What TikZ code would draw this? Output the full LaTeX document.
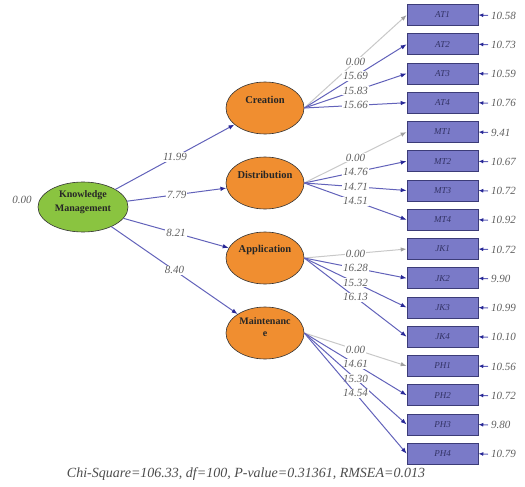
\documentclass[tikz,border=0pt]{standalone}
\usepackage{fontspec}
\setmainfont{Liberation Serif}
\usetikzlibrary{arrows.meta,shapes.geometric}
\definecolor{lineblue}{RGB}{98,98,186}
\definecolor{tipblue}{RGB}{40,40,150}
\definecolor{boxfill}{RGB}{122,122,200}
\definecolor{boxdraw}{RGB}{60,60,120}
\definecolor{boxtext}{RGB}{50,50,100}
\definecolor{numgray}{RGB}{95,95,95}
\definecolor{lightline}{RGB}{200,200,200}
\definecolor{orangefill}{RGB}{240,142,48}
\definecolor{greenfill}{RGB}{138,196,64}
\tikzset{
  latent/.style={ellipse,draw=black!80,line width=0.6pt,minimum width=78pt,minimum height=52pt,inner sep=0pt,fill=orangefill},
  lattext/.style={font=\fontsize{10.5}{12}\selectfont\bfseries,text=black!85,align=center,inner sep=0pt},
  obsbox/.style={rectangle,draw=boxdraw,line width=0.6pt,fill=boxfill,minimum width=71pt,minimum height=21pt,inner sep=0pt,font=\fontsize{9}{10}\selectfont\itshape,text=boxtext},
  num/.style={font=\fontsize{11}{12}\selectfont\itshape,text=numgray,inner sep=1pt},
  numbg/.style={num,fill=white},
  path1/.style={draw=lineblue,line width=1pt,-{Latex[length=6pt,width=4.5pt,color=tipblue]}},
  path0/.style={draw=lightline,line width=1pt,-{Latex[length=6pt,width=4.5pt,color=lightline!80!black]}},
  errarr/.style={draw=lineblue,line width=1pt,-{Latex[length=5pt,width=4pt,color=tipblue]}}
}
\begin{document}
\begin{tikzpicture}[x=1pt,y=-1pt]
\useasboundingbox (0,0) rectangle (525,487);
% exogenous latent
\node[ellipse,draw=black!80,line width=0.6pt,fill=greenfill,minimum width=90pt,minimum height=50pt,inner sep=0pt] (km) at (83,207) {};
\node[lattext,font=\fontsize{10}{14.5}\selectfont\bfseries] (kmt) at (83,202) {Knowledge\\Management};
\node[num] (kmv) at (22,200) {0.00};
% endogenous latents
\node[latent] (cre) at (265,108) {};
\node[latent] (dis) at (265,183) {};
\node[latent] (app) at (265,258) {};
\node[latent] (mai) at (265,333) {};
\node[lattext] (cret) at (265,100) {Creation};
\node[lattext] (dist) at (265,175) {Distribution};
\node[lattext] (appt) at (265,250) {Application};
\node[lattext,font=\fontsize{10}{11.5}\selectfont\bfseries] (mait) at (265,327) {Maintenanc\\e};
% structural paths
\draw[path1] (km) -- node[numbg,pos=0.5] {11.99} (cre);
\draw[path1] (km) -- node[numbg,pos=0.5] {7.79} (dis);
\draw[path1] (km) -- node[numbg,pos=0.5] {8.21} (app);
\draw[path1] (km) -- node[numbg,pos=0.5] {8.40} (mai);
% observed boxes
\foreach \n/\lab/\err [count=\i from 0] in {a1/AT1/10.58,a2/AT2/10.73,a3/AT3/10.59,a4/AT4/10.76,
  m1/MT1/9.41,m2/MT2/10.67,m3/MT3/10.72,m4/MT4/10.92,
  j1/JK1/10.72,j2/JK2/9.90,j3/JK3/10.99,j4/JK4/10.10,
  p1/PH1/10.56,p2/PH2/10.72,p3/PH3/9.80,p4/PH4/10.79}{
  \node[obsbox] (\n) at (442.5,{15+29.25*\i}) {\lab};
  \node[num,anchor=west,inner sep=0pt,inner xsep=3pt] (e\n) at (488,{15.5+29.25*\i}) {\err};
  \draw[errarr] (e\n.west) -- (\n.east);
}
% measurement paths
\draw[path0] (cre.east) -- node[numbg] {0.00} (a1.west);
\draw[path1] (cre.east) -- node[numbg] {15.69} (a2.west);
\draw[path1] (cre.east) -- node[numbg] {15.83} (a3.west);
\draw[path1] (cre.east) -- node[numbg] {15.66} (a4.west);
\draw[path0] (dis.east) -- node[numbg] {0.00} (m1.west);
\draw[path1] (dis.east) -- node[numbg] {14.76} (m2.west);
\draw[path1] (dis.east) -- node[numbg] {14.71} (m3.west);
\draw[path1] (dis.east) -- node[numbg] {14.51} (m4.west);
\draw[path0] (app.east) -- node[numbg] {0.00} (j1.west);
\draw[path1] (app.east) -- node[numbg] {16.28} (j2.west);
\draw[path1] (app.east) -- node[numbg] {15.32} (j3.west);
\draw[path1] (app.east) -- node[numbg] {16.13} (j4.west);
\draw[path0] (mai.east) -- node[numbg] {0.00} (p1.west);
\draw[path1] (mai.east) -- node[numbg] {14.61} (p2.west);
\draw[path1] (mai.east) -- node[numbg] {15.30} (p3.west);
\draw[path1] (mai.east) -- node[numbg] {14.54} (p4.west);
% fit statistics
\node[font=\fontsize{14}{16}\selectfont\itshape,text=black!70,inner sep=0pt] (fit) at (246,474) {Chi-Square=106.33, df=100, P-value=0.31361, RMSEA=0.013};
\end{tikzpicture}
\end{document}
